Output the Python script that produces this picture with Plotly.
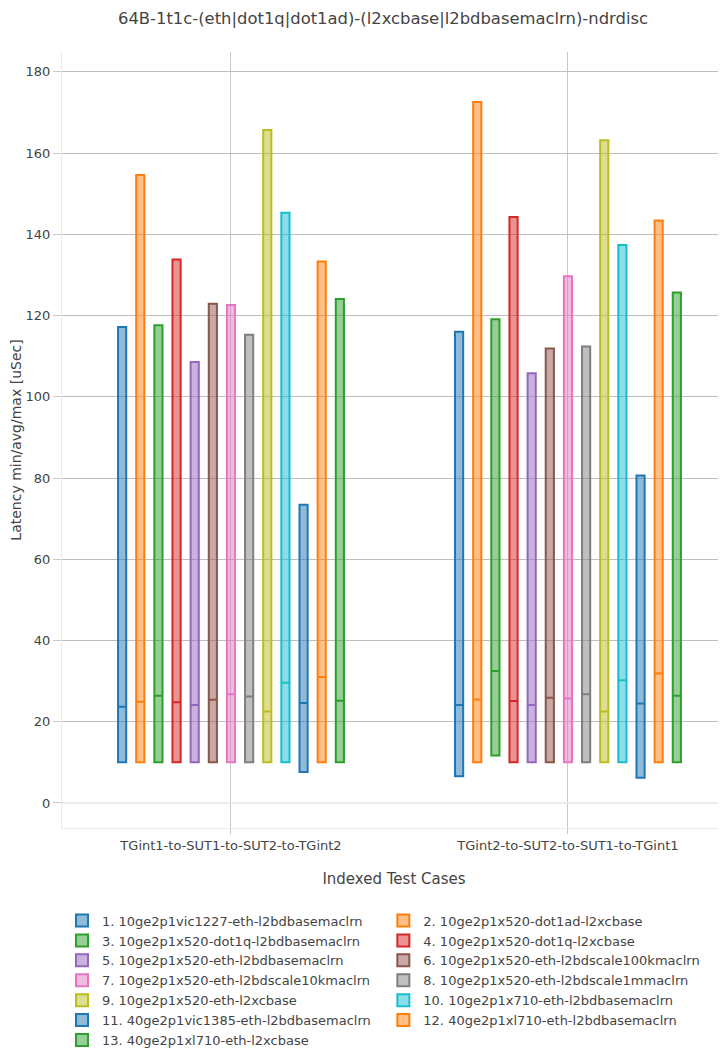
import plotly.graph_objects as go

directions = ["TGint1-to-SUT1-to-SUT2-to-TGint2", "TGint2-to-SUT2-to-SUT1-to-TGint1"]

names = [
    "1. 10ge2p1vic1227-eth-l2bdbasemaclrn",
    "2. 10ge2p1x520-dot1ad-l2xcbase",
    "3. 10ge2p1x520-dot1q-l2bdbasemaclrn",
    "4. 10ge2p1x520-dot1q-l2xcbase",
    "5. 10ge2p1x520-eth-l2bdbasemaclrn",
    "6. 10ge2p1x520-eth-l2bdscale100kmaclrn",
    "7. 10ge2p1x520-eth-l2bdscale10kmaclrn",
    "8. 10ge2p1x520-eth-l2bdscale1mmaclrn",
    "9. 10ge2p1x520-eth-l2xcbase",
    "10. 10ge2p1x710-eth-l2bdbasemaclrn",
    "11. 40ge2p1vic1385-eth-l2bdbasemaclrn",
    "12. 40ge2p1xl710-eth-l2bdbasemaclrn",
    "13. 40ge2p1xl710-eth-l2xcbase",
]

# direction 1 (TGint1 -> TGint2)
min_d1 = [10, 10, 10, 10, 10, 10, 10, 10, 10, 10, 7.6, 10, 10]
avg_d1 = [23.7, 24.9, 26.4, 24.8, 24.1, 25.4, 26.8, 26.2, 22.5, 29.6, 24.6, 31.0, 25.2]
max_d1 = [117.2, 154.6, 117.6, 133.8, 108.6, 122.9, 122.6, 115.3, 165.7, 145.3, 73.4, 133.3, 124.1]

# direction 2 (TGint2 -> TGint1)
min_d2 = [6.6, 10, 11.7, 10, 10, 10, 10, 10, 10, 10, 6.2, 10, 10]
avg_d2 = [24.1, 25.5, 32.5, 25.1, 24.1, 25.9, 25.7, 26.8, 22.5, 30.2, 24.5, 31.9, 26.4]
max_d2 = [116.0, 172.6, 119.1, 144.3, 105.8, 111.9, 129.7, 112.4, 163.2, 137.4, 80.6, 143.4, 125.7]

colors = ["#1f77b4", "#ff7f0e", "#2ca02c", "#d62728", "#9467bd", "#8c564b",
          "#e377c2", "#7f7f7f", "#bcbd22", "#17becf", "#1f77b4", "#ff7f0e", "#2ca02c"]

fig = go.Figure()
for i, name in enumerate(names):
    fig.add_trace(go.Box(
        x=directions,
        q1=[min_d1[i], min_d2[i]],
        median=[avg_d1[i], avg_d2[i]],
        q3=[max_d1[i], max_d2[i]],
        lowerfence=[min_d1[i], min_d2[i]],
        upperfence=[max_d1[i], max_d2[i]],
        name=name,
        marker=dict(color=colors[i]),
        line=dict(width=2),
        boxpoints=False,
    ))

FONT = "DejaVu Sans"

fig.update_layout(
    width=718, height=1041,
    margin=dict(l=54, r=0, t=44, b=221, autoexpand=False),
    paper_bgcolor="white", plot_bgcolor="white",
    boxmode="group", boxgap=0.3, boxgroupgap=0.55,
    title=dict(text="64B-1t1c-(eth|dot1q|dot1ad)-(l2xcbase|l2bdbasemaclrn)-ndrdisc",
               x=0.5223, xanchor="center", y=0.996, yanchor="top",
               font=dict(size=16.4, color="#444", family=FONT)),
    font=dict(color="#444", family=FONT),
    showlegend=True,
    legend=dict(orientation="h", x=0, xanchor="left", y=-0.1, yanchor="top",
                font=dict(size=13, family=FONT), traceorder="normal"),
    xaxis=dict(title=dict(text="Indexed Test Cases", font=dict(size=15), standoff=21),
               type="category", range=[-0.5015, 1.469], automargin=False,
               showgrid=True, gridcolor="rgb(200,200,200)",
               showline=True, linecolor="rgb(235,235,235)",
               ticks="outside", tickcolor="rgb(200,200,200)", ticklen=5,
               tickfont=dict(size=13)),
    yaxis=dict(title=dict(text="Latency min/avg/max [uSec]", font=dict(size=14), standoff=4),
               range=[-6.16, 184.9], dtick=20, automargin=False,
               showgrid=True, gridcolor="rgb(190,190,190)",
               zeroline=True, zerolinecolor="rgb(235,235,235)",
               showline=True, linecolor="rgb(235,235,235)",
               ticks="outside", tickcolor="rgb(200,200,200)", ticklen=8,
               tickfont=dict(size=13)),
)

fig.write_html("out.html")
